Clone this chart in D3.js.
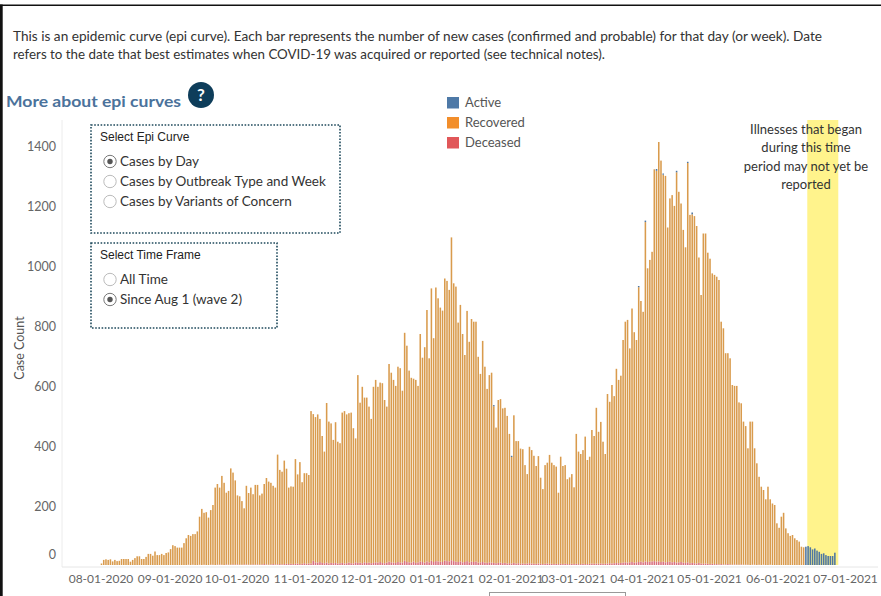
<!DOCTYPE html>
<html>
<head>
<meta charset="utf-8">
<script src="https://cdn.jsdelivr.net/npm/d3@7"></script>
<style>
    body { margin: 0; background: #fff; }
    svg text { font-family: Lato, "Open Sans", sans-serif; }
</style>
</head>
<body>
<svg id="epi-chart" width="881" height="596" viewBox="0 0 881 596"></svg>
<script>

// ---- data (one value per day starting Aug 1 2020) ----
const startDay = new Date(2020, 7, 1);

const totalCases = [
    5, 17, 19, 17, 19, 12, 17, 13, 14, 20,
    20, 20, 20, 11, 17, 23, 29, 29, 20, 20,
    27, 37, 37, 31, 45, 33, 33, 37, 33, 40,
    42, 53, 66, 63, 58, 58, 58, 73, 89, 100,
    97, 103, 103, 112, 161, 187, 174, 176, 158, 183,
    200, 258, 270, 258, 297, 274, 241, 247, 322, 308,
    282, 232, 229, 213, 189, 264, 240, 258, 236, 267,
    267, 232, 238, 270, 290, 278, 274, 264, 258, 368,
    317, 311, 348, 321, 258, 262,
    261, 353, 302, 343, 276, 306, 306, 300, 513, 503,
    493, 502, 487, 430, 378, 540, 478, 472, 417, 476,
    411, 406, 508, 513, 502, 506, 508, 456, 422, 633,
    541, 594, 558, 558, 528, 487, 594, 617, 594, 608,
    606, 550, 528, 670, 641, 617, 597, 661, 656, 581,
    774, 731, 648, 624, 621, 617, 597, 770, 691, 726,
    850, 689, 922, 756, 925, 889, 858, 848, 955, 947,
    917, 1092, 939, 928, 808, 867, 770, 700, 847, 744,
    820, 811, 811, 694, 637, 747, 661, 587,
    633, 641, 533, 458, 550, 553, 522, 524, 497, 437,
    364, 499, 413, 413, 388, 386, 333, 303, 394, 383,
    364, 330, 363, 291, 253, 333, 341, 367, 341, 333,
    328, 241, 361, 330, 333, 286, 292, 303, 259, 437,
    378, 370, 383, 428, 350, 361, 450, 430, 524, 444,
    477, 411, 370, 570, 544, 600, 563, 654, 617, 631,
    750, 811, 817, 722, 855, 776, 750, 930, 880, 844,
    1148, 989, 1017, 1044, 1319, 1320, 1410,
    1348, 1305, 1297, 1125, 1222, 1233, 1197, 1314, 1244,
    1205, 1117, 1059, 1344, 1167, 1175, 1163, 1130, 1025, 900,
    1105, 1105, 1041, 1021, 972, 967, 961, 950, 811, 789,
    706, 706, 689, 600, 597, 597, 542, 539, 478, 463,
    389, 478, 478, 389, 339, 294, 261, 250, 219, 261,
    219, 205, 200, 139, 124, 161, 174, 122, 106, 97,
    100, 89, 83, 78, 61, 59, 61, 63, 59, 52,
    55, 48, 44, 37, 39, 33, 30, 30, 30, 41
];

const deceased = [
    0, 0, 0, 0, 0, 0, 0, 0, 0, 0,
    0, 0, 0, 0, 0, 0, 0, 0, 0, 0,
    0, 0, 0, 0, 0, 0, 0, 0, 0, 0,
    0, 0, 0, 0, 0, 0, 0, 0, 0, 1,
    0, 1, 0, 0, 1, 0, 1, 0, 0, 1,
    1, 0, 1, 2, 1, 0, 2, 1, 1, 2,
    1, 2, 1, 1, 2, 2, 1, 1, 2, 1,
    2, 1, 2, 3, 2, 1, 2, 3, 2, 2,
    3, 2, 3, 4, 3, 4,
    3, 4, 5, 3, 4, 6, 4, 5, 5, 14,
    9, 8, 10, 7, 6, 8, 5, 7, 6, 7,
    5, 6, 7, 5, 6, 8, 6, 5, 9, 7,
    8, 6, 9, 7, 8, 6, 7, 9, 8, 10,
    7, 6, 8, 11, 9, 8, 7, 10, 9, 8,
    14, 10, 9, 8, 11, 7, 9, 12, 10, 8,
    12, 9, 14, 10, 13, 12, 11, 10, 15, 13,
    12, 16, 13, 11, 10, 12, 9, 10, 13, 9,
    11, 10, 12, 8, 9, 10, 8, 7, 9, 8,
    7, 6, 7, 8, 6, 7, 5, 6, 5, 7,
    5, 6, 4, 5, 4, 5, 6, 5, 4, 4,
    5, 4, 3, 4, 5, 4, 4, 3, 4, 3,
    4, 3, 4, 3, 3, 4, 3, 4, 3, 3,
    4, 3, 3, 4, 5, 4, 5, 4, 5, 4,
    4, 5, 6, 5, 6, 7, 6, 7, 8, 9,
    8, 9, 10, 8, 9, 10, 11, 9, 12, 10,
    11, 12, 13, 11, 12, 10, 11, 9, 10, 11,
    9, 10, 8, 9, 10, 8, 7, 9, 6, 7,
    6, 5, 7, 5, 4, 5, 4, 3, 4, 3,
    3, 2, 3, 2, 2, 3, 2, 1, 2, 1,
    1, 2, 1, 1, 1, 0, 1, 1, 0, 1,
    0, 1, 0, 0, 1, 0, 0, 0, 0, 0,
    0, 0, 0, 0, 0, 0, 0, 0, 0, 0,
    0, 0, 0, 0, 0, 0, 0, 0, 0, 0,
    0, 0, 0, 0
];

// active cases only show up on a handful of days (plus the last two weeks)
const activeDayIndex = [176, 184, 241, 244, 249, 252, 258, 263, 265,
    316, 317, 318, 319, 320, 321, 322, 323, 324, 325, 326, 327, 328, 329];
const activeCount = [4, 4, 4, 5, 6, 4, 5, 4, 6,
    61, 63, 59, 52, 55, 48, 44, 37, 39, 33, 30, 30, 30, 41];

const yTicks = [0, 200, 400, 600, 800, 1000, 1200, 1400];
const legendLabels = ["Active", "Recovered", "Deceased"];
const legendColors = ["#4e79a7", "#f28e2b", "#e15759"];

const introLines = [
    "This is an epidemic curve (epi curve). Each bar represents the number of new cases (confirmed and probable) for that day (or week). Date",
    "refers to the date that best estimates when COVID-19 was acquired or reported (see technical notes)."
];
const noteLines = ["Illnesses that began", "during this time", "period may not yet be", "reported"];
const highlightStart = new Date(2021, 5, 13);
const highlightEnd = new Date(2021, 5, 27);

const epiOptions = ["Cases by Day", "Cases by Outbreak Type and Week", "Cases by Variants of Concern"];
const timeOptions = ["All Time", "Since Aug 1 (wave 2)"];


class EpiCurveVis {

    constructor(_parentElement) {
        this.parentElement = _parentElement;
        this.initVis();
    }

    initVis() {
        let vis = this;

        vis.svg = d3.select("#" + vis.parentElement);

        vis.x = d3.scaleTime()
            .domain([new Date(2020, 7, 1), new Date(2021, 6, 1)])
            .range([100.5, 845]);

        vis.y = d3.scaleLinear()
            .domain([0, 1400])
            .range([565, 145]);

        vis.paneTop = 120;
        vis.barWidth = 1.55;

        // page frame (top rule + left edge of the embed)
        vis.svg.append("rect").attr("x", 0).attr("y", 0).attr("width", 881).attr("height", 596).attr("fill", "#fff");
        vis.svg.append("rect").attr("x", 0).attr("y", 4.5).attr("width", 881).attr("height", 1.5).attr("fill", "#111");
        vis.svg.append("rect").attr("x", 0).attr("y", 4.5).attr("width", 2.7).attr("height", 592).attr("fill", "#111");

        // intro text
        vis.svg.selectAll(".intro")
            .data(introLines)
            .enter().append("text")
            .attr("class", "intro")
            .attr("x", 13)
            .attr("y", (d, i) => 41 + i * 18)
            .attr("textLength", (d, i) => i === 0 ? 809 : 592)
            .attr("lengthAdjust", "spacingAndGlyphs")
            .style("font-size", "12.5px")
            .style("fill", "#333")
            .text(d => d);

        // "More about" link + help badge
        vis.svg.append("text")
            .attr("x", 6).attr("y", 107)
            .attr("textLength", 175).attr("lengthAdjust", "spacingAndGlyphs")
            .style("font-size", "16px").style("font-weight", "bold")
            .style("fill", "#4b729b")
            .text("More about epi curves");
        vis.svg.append("circle").attr("cx", 201).attr("cy", 95).attr("r", 13).attr("fill", "#0e3d5a");
        vis.svg.append("text")
            .attr("x", 201).attr("y", 101).attr("text-anchor", "middle")
            .style("font-size", "17px").style("font-weight", "bold").style("fill", "#fff")
            .text("?");

        // axis lines
        vis.svg.append("line")
            .attr("x1", 62).attr("x2", 62).attr("y1", vis.paneTop).attr("y2", 567)
            .attr("stroke", "#ececec");
        vis.svg.append("line")
            .attr("x1", 62).attr("x2", 878).attr("y1", 567).attr("y2", 567)
            .attr("stroke", "#e6e6e6");

        vis.plotArea = vis.svg.append("g").attr("class", "plot-area");

        // highlight band for the not-yet-reported period
        vis.plotArea.append("rect")
            .attr("x", vis.x(highlightStart) + 2.4)
            .attr("y", vis.paneTop)
            .attr("width", vis.x(highlightEnd) - vis.x(highlightStart) - 0.2)
            .attr("height", 565 - vis.paneTop)
            .attr("fill", "#fff38c");

        vis.svg.selectAll(".note")
            .data(noteLines)
            .enter().append("text")
            .attr("class", "note")
            .attr("x", 806)
            .attr("y", (d, i) => 134 + i * 18.3)
            .attr("text-anchor", "middle")
            .style("font-size", "13px")
            .style("fill", "#333")
            .text(d => d);

        // y axis
        vis.svg.selectAll(".y-label")
            .data(yTicks)
            .enter().append("text")
            .attr("class", "y-label")
            .attr("x", 56)
            .attr("y", d => d === 0 ? vis.y(d) - 6 : vis.y(d) + 6)
            .attr("text-anchor", "end")
            .style("font-size", "12.5px")
            .style("fill", "#666")
            .text(d => d);

        vis.svg.append("text")
            .attr("transform", "translate(24,348) rotate(-90)")
            .attr("text-anchor", "middle")
            .style("font-size", "12.5px")
            .style("fill", "#555")
            .text("Case Count");

        // x axis
        vis.xAxis = d3.axisBottom(vis.x)
            .tickValues(d3.timeMonth.range(new Date(2020, 7, 1), new Date(2021, 6, 2)))
            .tickFormat(d3.timeFormat("%m-%d-%Y"))
            .tickSize(0)
            .tickPadding(0);

        vis.svg.append("g")
            .attr("class", "x-axis")
            .attr("transform", "translate(0,574)")
            .call(vis.xAxis)
            .call(g => g.select(".domain").remove())
            .selectAll("text")
            .style("font-family", "Lato, 'Open Sans', sans-serif")
            .style("font-size", "12px")
            .style("fill", "#666");

        // legend
        let legend = vis.svg.selectAll(".legend")
            .data(legendLabels)
            .enter().append("g")
            .attr("class", "legend")
            .attr("transform", (d, i) => `translate(447,${97 + i * 20})`);
        legend.append("rect")
            .attr("width", 12).attr("height", 11.5)
            .attr("fill", (d, i) => legendColors[i]);
        legend.append("text")
            .attr("x", 18).attr("y", 10)
            .style("font-size", "13px")
            .style("fill", "#555")
            .text(d => d);

        vis.drawControls();
        vis.wrangleData();
    }

    drawControls() {
        let vis = this;

        const drawBox = (x, y, w, h, title, options, selected) => {
            let g = vis.svg.append("g").attr("transform", `translate(${x},${y})`);
            g.append("rect")
                .attr("width", w).attr("height", h)
                .attr("fill", "#fff")
                .attr("stroke", "#1f4a5c")
                .attr("stroke-width", 1.6)
                .attr("stroke-dasharray", "1.6,1.6");
            g.append("text")
                .attr("x", 9).attr("y", 16)
                .style("font-family", "'Liberation Sans', Arial, sans-serif")
                .style("font-size", "12px")
                .style("fill", "#222")
                .text(title);
            let opt = g.selectAll(".opt")
                .data(options)
                .enter().append("g")
                .attr("transform", (d, i) => `translate(19,${36.5 + i * 20})`);
            opt.append("circle")
                .attr("r", 6.2)
                .attr("fill", "#fff")
                .attr("stroke", (d, i) => i === selected ? "#777" : "#bbb");
            opt.filter((d, i) => i === selected)
                .append("circle")
                .attr("r", 2.7)
                .attr("fill", "#555");
            opt.append("text")
                .attr("x", 10).attr("y", 4.5)
                .style("font-size", "13.5px")
                .style("fill", "#333")
                .text(d => d);
        };

        drawBox(91, 125, 249, 108, "Select Epi Curve", epiOptions, 0);
        drawBox(91, 243, 186, 85, "Select Time Frame", timeOptions, 1);

        // edge of a control cut off at the bottom of the view
        vis.svg.append("rect")
            .attr("x", 489.5).attr("y", 592.5).attr("width", 136).attr("height", 12)
            .attr("fill", "none").attr("stroke", "#999");
    }

    wrangleData() {
        let vis = this;

        let activeByDay = {};
        activeDayIndex.forEach((d, i) => activeByDay[d] = activeCount[i]);

        vis.displayData = totalCases.map((total, i) => {
            let act = activeByDay[i] || 0;
            let dec = deceased[i];
            return {
                date: d3.timeDay.offset(startDay, i),
                deceased: dec,
                recovered: total - dec - act,
                active: act
            };
        });

        vis.stack = d3.stack().keys(["deceased", "recovered", "active"]);
        vis.stackedData = vis.stack(vis.displayData);

        vis.updateVis();
    }

    updateVis() {
        let vis = this;

        const fills = { deceased: "#d9707e", recovered: "#d99b4d", active: "#4f77a2" };

        let layers = vis.plotArea.selectAll(".layer")
            .data(vis.stackedData)
            .enter().append("g")
            .attr("class", "layer")
            .attr("fill", d => fills[d.key]);

        layers.selectAll("rect")
            .data(d => d.filter(p => p[1] > p[0]))
            .enter().append("rect")
            .attr("x", d => vis.x(d.data.date) + 1 - vis.barWidth / 2)
            .attr("width", vis.barWidth)
            .attr("y", d => vis.y(d[1]))
            .attr("height", d => vis.y(d[0]) - vis.y(d[1]));
    }
}

new EpiCurveVis("epi-chart");
</script>
</body>
</html>
